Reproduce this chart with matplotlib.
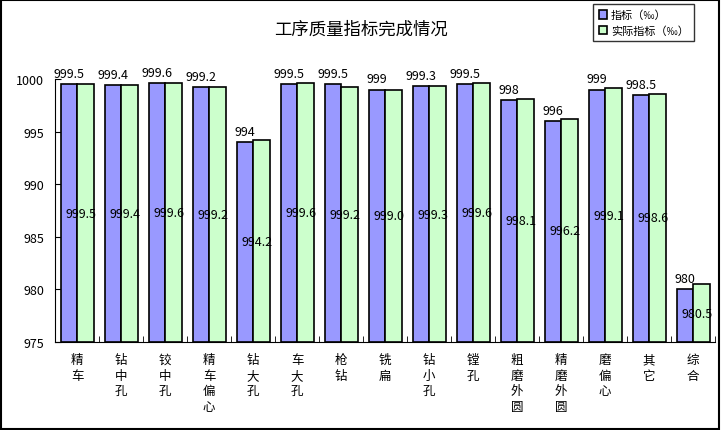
import matplotlib.pyplot as plt
import numpy as np
from matplotlib.patches import Rectangle

plt.rcParams['font.family'] = ['Noto Sans CJK SC', 'DejaVu Sans']

# data
categories = ['精车', '钻中孔', '铰中孔', '精车偏心', '钻大孔', '车大孔', '枪钻', '铣扁',
              '钻小孔', '镗孔', '粗磨外圆', '精磨外圆', '磨偏心', '其它', '综合']
plan = [999.5, 999.4, 999.6, 999.2, 994, 999.5, 999.5, 999, 999.3, 999.5,
        998, 996, 999, 998.5, 980]
actual = [999.5, 999.4, 999.6, 999.2, 994.2, 999.6, 999.2, 999.0, 999.3, 999.6,
          998.1, 996.2, 999.1, 998.6, 980.5]
yticks = [975, 980, 985, 990, 995, 1000]

fig = plt.figure(figsize=(7.21, 4.31), dpi=100)
ax = fig.add_axes([55/721, 88/431, 660/721, 263/431])

x = np.arange(len(categories))
w = 0.375
base = 975
b1 = ax.bar(x - w/2, np.array(plan) - base, w, bottom=base, color='#9999FF',
            edgecolor='black', linewidth=1.2, label='指标（‰）', zorder=3)
b2 = ax.bar(x + w/2, np.array(actual) - base, w, bottom=base, color='#CCFFCC',
            edgecolor='black', linewidth=1.2, label='实际指标（‰）', zorder=3)

# labels: plan above bars, actual in the middle of bars
for xi, v in zip(x, plan):
    ax.annotate(f'{v:g}', (xi - w/2, v), xytext=(0, 3), textcoords='offset points',
                ha='center', va='bottom', fontsize=9, zorder=5)
for xi, v in zip(x, actual):
    ax.annotate(f'{v:.1f}', (xi + w/2, (v + base) / 2), xytext=(-3, 0),
                textcoords='offset points', ha='center', va='center', fontsize=9, zorder=5)

ax.set_xlim(-0.5, len(categories) - 0.5)
ax.set_ylim(975, 1000)
ax.set_yticks(yticks)
ax.set_yticklabels([str(t) for t in yticks], fontsize=9)
ax.set_xticks(x)
ax.set_xticklabels(['\n'.join(c) for c in categories], fontsize=9, linespacing=1.25, va='top')
ax.tick_params(axis='x', which='major', length=0, pad=8)
ax.set_xticks(np.arange(len(categories)) + 0.5, minor=True)
ax.tick_params(axis='x', which='minor', direction='in', length=4)
ax.tick_params(axis='y', direction='in', length=4, pad=8)

for s in ['top', 'right']:
    ax.spines[s].set_visible(False)

fig.text(0.5, 0.93, '工序质量指标完成情况', ha='center', va='center', fontsize=12.5)

leg = fig.legend(handles=[b1, b2], loc='upper left', bbox_to_anchor=(593/721, 1 - 5/431),
                 fontsize=8, frameon=True, fancybox=False, edgecolor='black',
                 handlelength=0.8, handleheight=0.8, handletextpad=0.3,
                 borderpad=0.5, labelspacing=0.45, borderaxespad=0)
leg.get_frame().set_linewidth(1)

# figure border
fig.patches.append(Rectangle((0.001, 0.002), 0.996, 0.995, transform=fig.transFigure,
                             fill=False, edgecolor='black', linewidth=1.5))

fig.savefig('out.png', dpi=100)
